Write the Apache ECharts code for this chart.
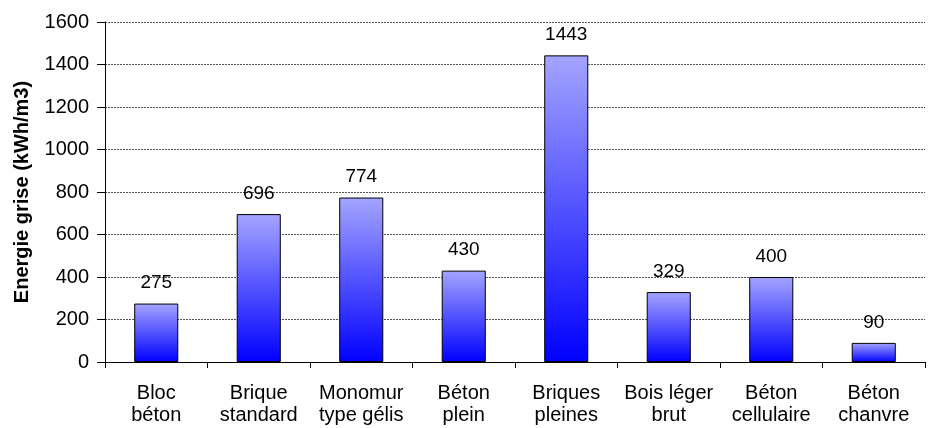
<!DOCTYPE html>
<html><head><meta charset="utf-8">
<script src="https://cdn.jsdelivr.net/npm/echarts@6/dist/echarts.min.js"></script>
<style>html,body{margin:0;padding:0;background:#fff}#c{width:931px;height:428px}</style>
</head><body><div id="c"></div>
<script>
const categories = ["Bloc\nbéton", "Brique\nstandard", "Monomur\ntype gélis", "Béton\nplein", "Briques\npleines", "Bois léger\nbrut", "Béton\ncellulaire", "Béton\nchanvre"];
const values = [275, 696, 774, 430, 1443, 329, 400, 90];
const yTitle = "Energie grise (kWh/m3)";

const chart = echarts.init(document.getElementById('c'), null, {renderer: 'canvas'});
const font = "'Liberation Sans', Arial, sans-serif";
chart.setOption({
  animation: false,
  grid: {left: 105, right: 6, top: 22, bottom: 66},
  xAxis: {
    type: 'category', data: categories,
    axisLine: {lineStyle: {color: '#000', width: 1}},
    axisTick: {show: true, length: 6, alignWithLabel: false, lineStyle: {color: '#000'}},
    axisLabel: {color: '#000', fontSize: 20, fontFamily: font, lineHeight: 22, margin: 20, interval: 0}
  },
  yAxis: {
    type: 'value', min: 0, max: 1600, interval: 200,
    name: yTitle, nameLocation: 'middle', nameGap: 73,
    nameTextStyle: {color: '#000', fontSize: 20, fontWeight: 'bold', fontFamily: font},
    axisLine: {show: true, lineStyle: {color: '#000', width: 1}},
    axisTick: {show: true, length: 8, lineStyle: {color: '#000'}},
    axisLabel: {color: '#000', fontSize: 20, fontFamily: font, margin: 16, formatter: v => String(v)},
    splitLine: {lineStyle: {color: '#555', type: [2, 1], width: 1}}
  },
  series: [{
    type: 'bar', data: values, barWidth: '43%',
    itemStyle: {
      borderColor: '#000', borderWidth: 1,
      color: new echarts.graphic.LinearGradient(0, 0, 0, 1, [
        {offset: 0, color: '#a4a4ff'}, {offset: 1, color: '#0000ff'}
      ])
    },
    label: {show: true, position: 'top', distance: 11, color: '#000', fontSize: 19, fontFamily: font}
  }]
});
</script></body></html>
